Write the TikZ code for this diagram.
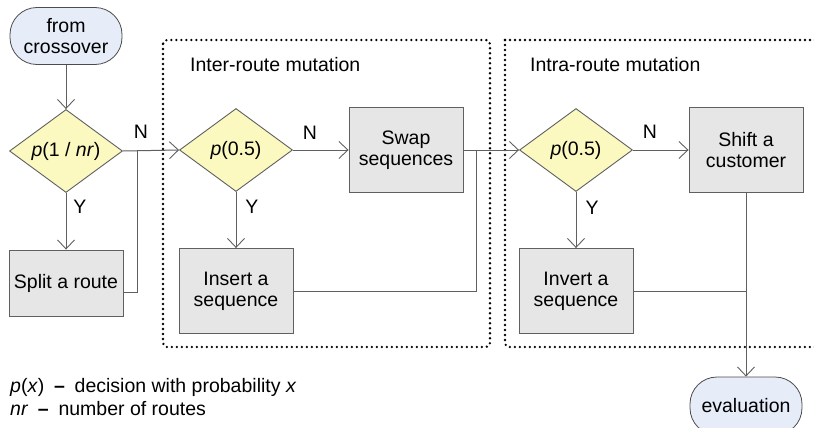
\documentclass[tikz,border=0pt]{standalone}
\usepackage{fontspec}
\setmainfont{Liberation Sans}
\usetikzlibrary{shapes.geometric,arrows.meta,positioning}
\definecolor{dfill}{HTML}{FBF8C0}
\definecolor{bfill}{HTML}{E6E6E6}
\definecolor{tfill}{HTML}{E6ECF8}
\definecolor{lgray}{HTML}{606060}
\tikzset{
  every node/.style={font=\fontsize{19.5}{21}\selectfont},
  box/.style={draw=lgray, fill=bfill, minimum width=114pt, minimum height=85pt, inner sep=0pt, align=center, line width=0.9pt},
  dec/.style={diamond, draw=lgray, fill=dfill, minimum width=113pt, minimum height=83pt, inner sep=0pt, aspect=1.36, line width=0.9pt},
  term/.style={draw=black!70, fill=tfill, rounded corners=27pt, minimum width=112pt, minimum height=57pt, inner sep=0pt, align=center, line width=0.8pt},
  conn/.style={draw=lgray, line width=1pt},
  arr/.style={conn, -{Straight Barb[length=9pt,width=17pt,line width=0.9pt]}},
  grp/.style={draw=black, line width=2.6pt, line cap=round, dash pattern=on 0pt off 5pt, rounded corners=4pt},
  lab/.style={inner sep=0pt}
}
\begin{document}
\begin{tikzpicture}[x=1pt,y=-1pt]
\useasboundingbox (0,0) rectangle (814,428);
% groups
\draw[grp] (163,40) rectangle (490,347);
\draw[grp] (505,40) -- (505,347) -- (840,347);
\draw[grp] (505,40) -- (840,40);
\node[lab, anchor=west] (g1) at (190,65) {Inter-route mutation};
\node[lab, anchor=west] (g2) at (530,65) {Intra-route mutation};
% nodes
\node[term] (start) at (66,36) {from\\crossover};
\node[dec] (d1) at (66,151) {\textit{p}(1 / \textit{nr})};
\node[box, minimum height=66pt] (split) at (66,283) {Split a route};
\node[dec] (d2) at (236,150) {\textit{p}(0.5)};
\node[box] (swap) at (406,150) {Swap\\sequences};
\node[box] (ins) at (236,291) {Insert a\\sequence};
\node[dec] (d3) at (576,150) {\textit{p}(0.5)};
\node[box] (shift) at (746,150) {Shift a\\customer};
\node[box] (inv) at (576,291) {Invert a\\sequence};
\node[term, minimum height=58pt] (eval) at (746,406) {evaluation};
% junction coordinates
\coordinate (j1) at (137,151);
\coordinate (j2) at (476,151);
\coordinate (j3) at (746,291);
% connectors
\draw[arr] (start) -- (d1.north);
\draw[arr] (d1.south) -- (split.north);
\draw[arr] (d1.east) -- (d2.west);
\draw[conn] (split.east |- 0,292) -| (j1);
\draw[arr] (d2.south) -- (ins.north);
\draw[arr] (d2.east) -- (swap.west);
\draw[arr] (swap.east |- d3.west) -- (d3.west);
\draw[conn] (ins.east) -| (j2);
\draw[arr] (d3.south) -- (inv.north);
\draw[arr] (d3.east) -- (shift.west);
\draw[conn] (inv.east) -- (j3);
\draw[arr] (shift.south) -- (eval.north);
% branch labels
\node[lab] (n1) at (141,132) {N};
\node[lab] (y1) at (80,207) {Y};
\node[lab] (n2) at (310,133) {N};
\node[lab] (y2) at (252,207) {Y};
\node[lab] (n3) at (650,132) {N};
\node[lab] (y3) at (592,208) {Y};
% legend
\node[lab, anchor=west] (l1) at (10,387) {\textit{p}(\textit{x})\enspace\textbf{--}\enspace decision with probability \textit{x}};
\node[lab, anchor=west] (l2) at (10,409) {\textit{nr}\enspace\textbf{--}\enspace number of routes};
\end{tikzpicture}
\end{document}
